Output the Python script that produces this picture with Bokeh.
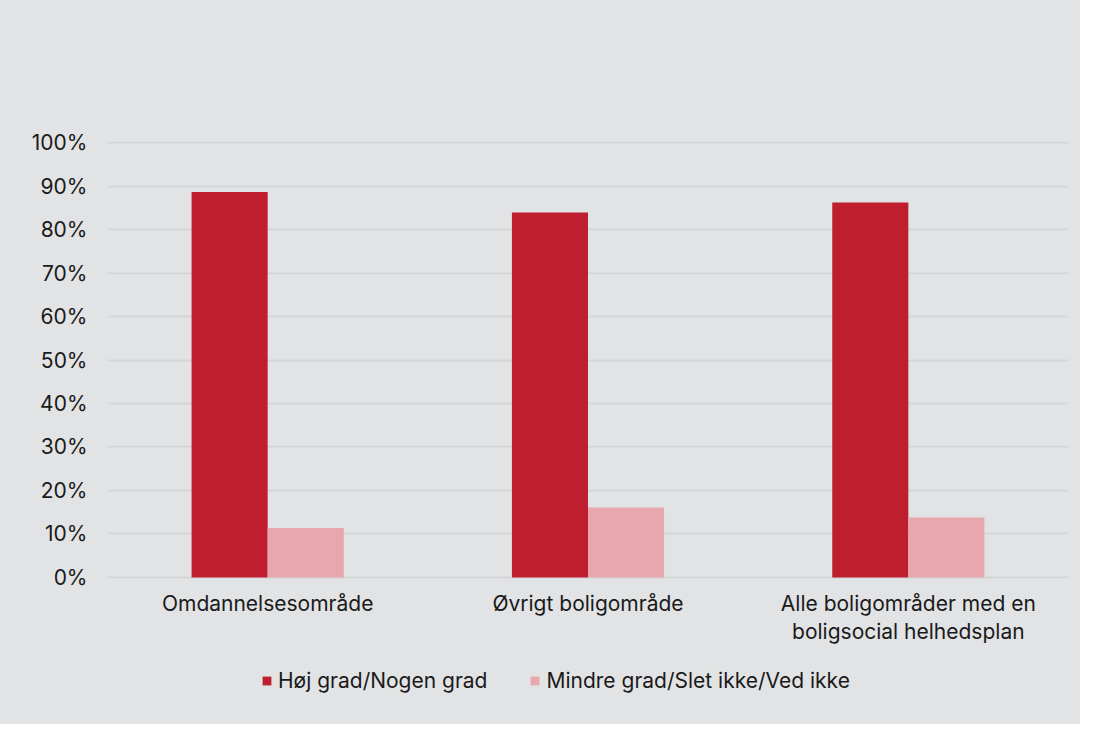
from bokeh.plotting import figure
from bokeh.models import FactorRange, Legend, LegendItem, NumeralTickFormatter, FixedTicker, Range1d
from bokeh.models import ColumnDataSource
from bokeh.layouts import column
from bokeh.transform import dodge
from bokeh.embed import file_html
from bokeh.resources import INLINE

categories = ["Omdannelsesområde", "Øvrigt boligområde", "Alle boligområder med en\nboligsocial helhedsplan"]
hoej = [0.886, 0.839, 0.862]
mindre = [0.114, 0.161, 0.138]
series_names = ["Høj grad/Nogen grad", "Mindre grad/Slet ikke/Ved ikke"]
y_ticks = [0, 0.1, 0.2, 0.3, 0.4, 0.5, 0.6, 0.7, 0.8, 0.9, 1.0]

BG = "#e2e3e5"
RED = "#be1e2d"
PINK = "#e8a6ad"
GRID = "#d4d5d7"
FONT = "Inter"
TXT = "#1a1a1a"
FS = "21px"

src = ColumnDataSource(dict(cat=categories, hoej=hoej, mindre=mindre))
x_range = FactorRange(*categories, range_padding=0)
bw = 0.2375

p = figure(width=1080, height=662, x_range=x_range,
           y_range=Range1d(-0.0046, 1.0046), output_backend="svg", toolbar_location=None,
           min_border_left=107, min_border_right=12, min_border_top=140, min_border_bottom=83)
p.background_fill_color = None
p.border_fill_color = BG
p.outline_line_color = None

r1 = p.vbar(x=dodge("cat", -bw / 2, range=x_range), top="hoej", width=bw, source=src,
            fill_color=RED, line_color=None)
r2 = p.vbar(x=dodge("cat", bw / 2, range=x_range), top="mindre", width=bw, source=src,
            fill_color=PINK, line_color=None)

p.yaxis.ticker = FixedTicker(ticks=y_ticks)
p.yaxis.formatter = NumeralTickFormatter(format="0%")
for ax in (p.xaxis[0], p.yaxis[0]):
    ax.axis_line_color = None
    ax.major_tick_line_color = None
    ax.minor_tick_line_color = None
    ax.major_label_text_font = FONT
    ax.major_label_text_font_size = FS
    ax.major_label_text_color = TXT
p.yaxis.major_label_standoff = 14
p.xaxis.major_label_standoff = 5
p.xaxis.major_label_text_line_height = 1.12
p.xgrid.grid_line_color = None
p.ygrid.grid_line_color = GRID
p.ygrid.grid_line_width = 2
p.ygrid.ticker = FixedTicker(ticks=y_ticks)

# legend strip: same data drawn with a y range that keeps the bars out of view
lg = figure(width=1080, height=62, x_range=x_range, y_range=Range1d(2, 3),
            output_backend="svg", toolbar_location=None,
            x_axis_location=None, y_axis_location=None,
            min_border_left=0, min_border_right=0, min_border_top=0, min_border_bottom=0)
lg.background_fill_color = None
lg.border_fill_color = BG
lg.outline_line_color = None
lg.grid.visible = False
d1 = lg.vbar(x=dodge("cat", -bw / 2, range=x_range), top="hoej", width=bw, source=src,
             fill_color=RED, line_color=None)
d2 = lg.vbar(x=dodge("cat", bw / 2, range=x_range), top="mindre", width=bw, source=src,
             fill_color=PINK, line_color=None)

legend = Legend(items=[LegendItem(label=series_names[0], renderers=[d1]),
                       LegendItem(label=series_names[1], renderers=[d2])],
                orientation="horizontal", location=(154, 31),
                background_fill_alpha=0, border_line_color=None,
                label_text_font=FONT, label_text_font_size=FS, label_text_color=TXT,
                glyph_width=11, glyph_height=11, label_standoff=6, spacing=42, padding=0, margin=0)
lg.add_layout(legend, "center")

layout = column(p, lg, spacing=0, styles={"background-color": BG})
open("out.html", "w").write(file_html(layout, INLINE))
